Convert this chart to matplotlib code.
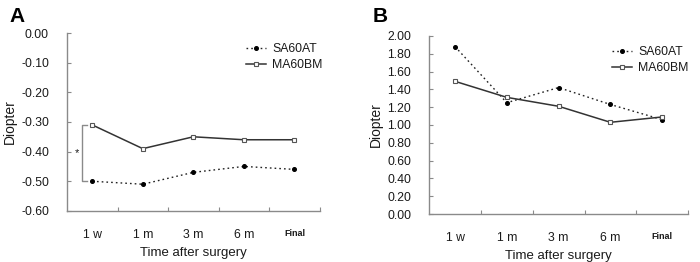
import matplotlib
matplotlib.use("Agg")
import matplotlib.pyplot as plt
import numpy as np

plt.rcParams['font.family'] = ['Liberation Sans', 'DejaVu Sans']

categories = ["1 w", "1 m", "3 m", "6 m", "Final"]
a_sa60at = [-0.50, -0.51, -0.47, -0.45, -0.46]
a_ma60bm = [-0.31, -0.39, -0.35, -0.36, -0.36]
b_sa60at = [1.88, 1.25, 1.42, 1.23, 1.06]
b_ma60bm = [1.49, 1.31, 1.21, 1.03, 1.09]
a_yticks = [0.00, -0.10, -0.20, -0.30, -0.40, -0.50, -0.60]
b_yticks = [0.00, 0.20, 0.40, 0.60, 0.80, 1.00, 1.20, 1.40, 1.60, 1.80, 2.00]

axis_col = '#8a8a8a'
text_col = '#1a1a1a'
fig = plt.figure(figsize=(7.0, 2.62), dpi=100)

def style(ax, yticks, ylim):
    x = np.arange(len(categories)) + 0.5
    ax.set_xlim(0, len(categories))
    ax.set_ylim(*ylim)
    ax.set_yticks(yticks)
    ax.set_yticklabels([f"{v:.2f}" for v in yticks], fontsize=8.8, color=text_col)
    ax.set_xticks(np.arange(1, len(categories) + 1))
    ax.set_xticklabels([])
    ax.set_xticks(x, minor=True)
    ax.set_xticklabels(categories, minor=True, fontsize=8.8, color=text_col)
    for lbl in ax.get_xticklabels(minor=True):
        if lbl.get_text() == "Final":
            lbl.set_fontsize(6.5)
            lbl.set_fontweight('bold')
    ax.tick_params(axis='x', which='minor', length=0, pad=13)
    ax.tick_params(axis='x', which='major', length=3, color=axis_col, direction='in')
    ax.tick_params(axis='y', length=3, color=axis_col, direction='in', pad=13)
    for s in ['top', 'right']:
        ax.spines[s].set_visible(False)
    for s in ['left', 'bottom']:
        ax.spines[s].set_color(axis_col)
        ax.spines[s].set_linewidth(1.0)
    ax.set_xlabel("Time after surgery", fontsize=9.5, color=text_col, labelpad=4)
    ax.set_ylabel("Diopter", fontsize=10, color=text_col, labelpad=3)
    return x

def draw(ax, x, sa, ma, anchor):
    ax.plot(x, sa, linestyle=(0, (1.2, 2.2)), color='#222222', lw=1.0,
            marker='o', markersize=2.6, markerfacecolor='black', markeredgecolor='black',
            label='SA60AT')
    ax.plot(x, ma, linestyle='-', color='#333333', lw=1.1,
            marker='s', markersize=3.2, markerfacecolor='white', markeredgecolor='#555555',
            markeredgewidth=0.8, label='MA60BM')
    leg = ax.legend(loc='upper right', bbox_to_anchor=anchor, frameon=False, fontsize=8.8,
                    handlelength=1.6, handletextpad=0.5, labelspacing=0.3, borderaxespad=0.0)
    for t in leg.get_texts():
        t.set_color(text_col)

axA = fig.add_axes([0.0957, 0.195, 0.361, 0.679])
xA = style(axA, a_yticks, (-0.60, 0.00))
draw(axA, xA, a_sa60at, a_ma60bm, (1.03, 0.97))
# significance bracket
axA.plot([0.40, 0.30, 0.30, 0.40], [a_ma60bm[0], a_ma60bm[0], a_sa60at[0], a_sa60at[0]],
         color=axis_col, lw=1.0)
axA.text(0.20, (a_ma60bm[0] + a_sa60at[0]) / 2, "*", ha='center', va='center',
         fontsize=8, color=text_col)

axB = fig.add_axes([0.613, 0.183, 0.37, 0.680])
xB = style(axB, b_yticks, (0.00, 2.00))
draw(axB, xB, b_sa60at, b_ma60bm, (1.02, 0.97))

fig.text(0.013, 0.975, "A", fontsize=15, fontweight='bold', va='top', ha='left')
fig.text(0.532, 0.975, "B", fontsize=15, fontweight='bold', va='top', ha='left')

fig.savefig("out.png", dpi=100)
